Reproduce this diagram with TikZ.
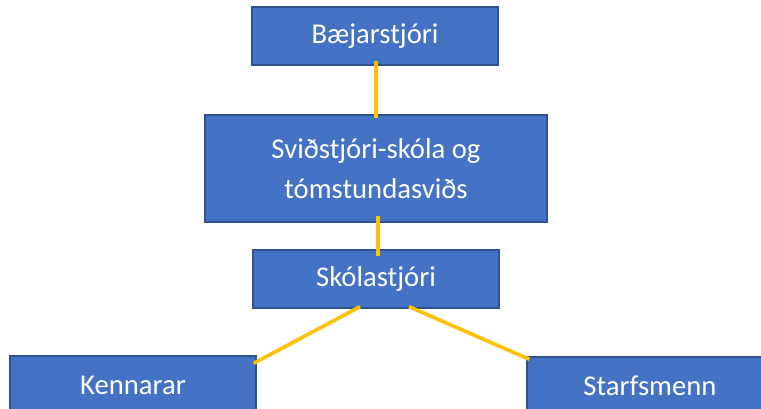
\documentclass[tikz,border=0pt]{standalone}
\usepackage{fontspec}
\setmainfont{Carlito}
\usetikzlibrary{calc}
\definecolor{boxfill}{HTML}{4472C4}
\definecolor{boxdraw}{HTML}{2F528F}
\definecolor{linkcol}{HTML}{FFC000}
\begin{document}
\begin{tikzpicture}[x=0.75pt,y=-0.75pt,
  orgbox/.style={draw=boxdraw,fill=boxfill,line width=1pt,text=white,
    font=\fontsize{21.5}{30}\selectfont,align=center,inner sep=0pt,
    minimum width=184.5pt,minimum height=43.5pt},
  link/.style={draw=linkcol,line width=2.7pt}]
\useasboundingbox (0,0) rectangle (761,409);
\node[orgbox] (A) at (375,36) {Bæjarstjóri};
\node[orgbox,minimum width=256.5pt,minimum height=80.25pt] (B) at (376,168.5) {Sviðstjóri-skóla og\\tómstundasviðs};
\node[orgbox] (C) at (376,279) {Skólastjóri};
\node[orgbox] (D) at (133,385) {Kennarar};
\node[orgbox] (E) at (650,386) {Starfsmenn};
\draw[link] ($(A.south)+(1,-5)$) -- ($(B.north)+(0,4)$);
\draw[link] ($(B.south)+(2,-7)$) -- ($(C.north)+(2,7)$);
\draw[link] ($(C.south)+(-16,-2)$) -- ($(D.north east)+(-3,8)$);
\draw[link] ($(C.south)+(33,-2)$) -- ($(E.north west)+(3,3)$);
\end{tikzpicture}
\end{document}
